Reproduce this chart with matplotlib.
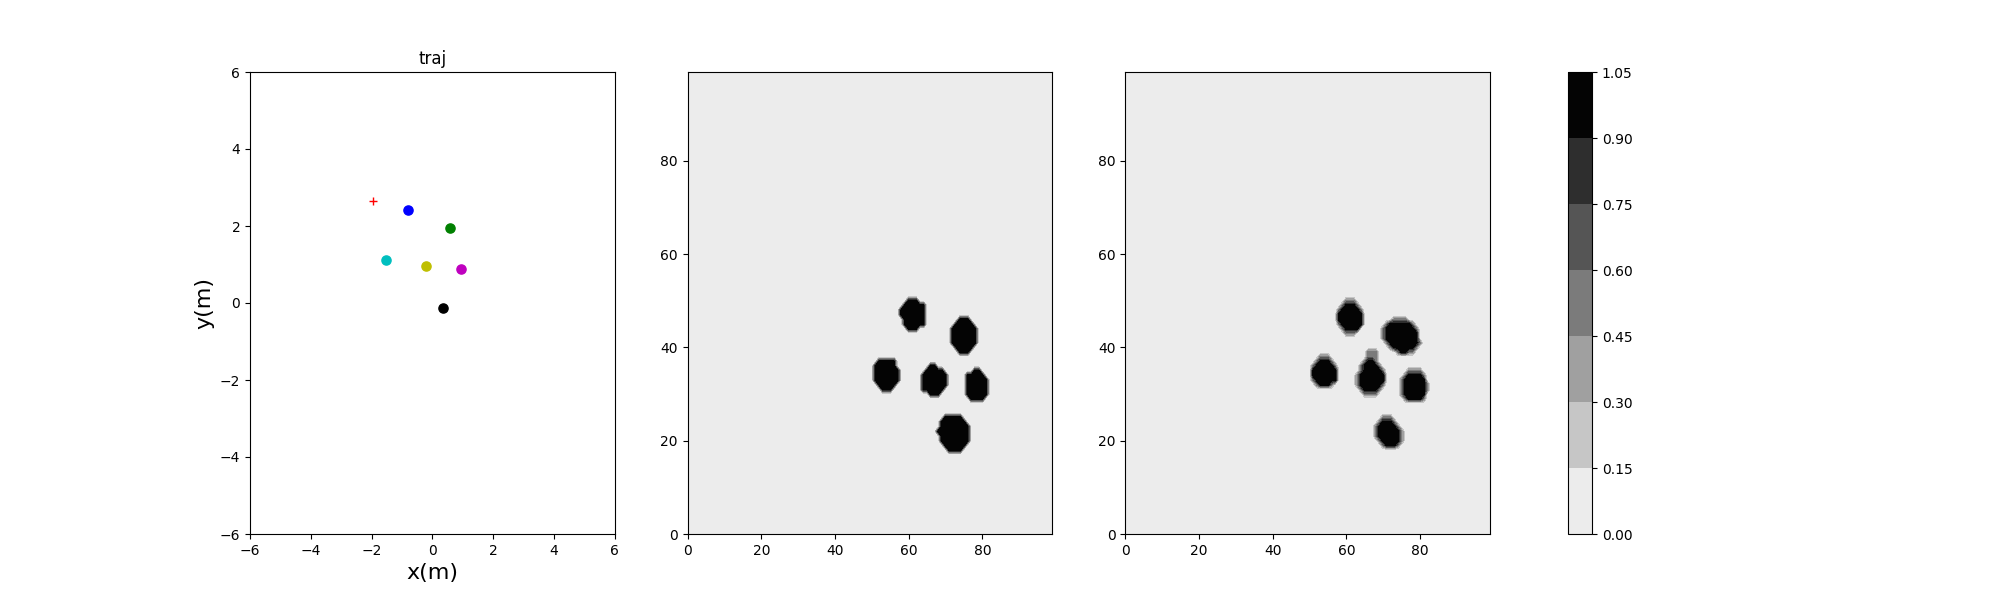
import numpy as np
import matplotlib
matplotlib.use("Agg")
import matplotlib.pyplot as plt

# trajectory panel
point_x = [-0.79, 0.58, -1.52, -0.2, 0.95, 0.36]
point_y = [2.41, 1.94, 1.11, 0.95, 0.875, -0.14]
point_colors = ['b', 'g', 'c', 'y', 'm', 'k']
target_x = [-1.96]
target_y = [2.64]

# colour levels
levels = [0.0, 0.15, 0.30, 0.45, 0.60, 0.75, 0.90, 1.05]
level_colors = ['#ececec', '#c6c6c6', '#a0a0a0', '#7b7b7b', '#555555', '#2e2e2e', '#040404']

# occupied cells, as (row, first column, last column)
left_full = [
    (50, 60, 62), (49, 59, 64), (48, 58, 64), (47, 58, 64), (46, 59, 64), (45, 59, 64), (44, 60, 62),
    (37, 52, 56), (36, 51, 56), (35, 51, 57), (34, 51, 57), (33, 51, 57), (32, 52, 56), (31, 53, 55),
    (36, 66, 67), (35, 65, 69), (34, 64, 70), (33, 64, 70), (32, 64, 70), (31, 64, 69), (30, 66, 68),
    (35, 78, 79), (34, 76, 80), (33, 76, 81), (32, 76, 81), (31, 76, 81), (30, 76, 81), (29, 77, 80),
    (46, 74, 76), (45, 73, 77), (44, 72, 78), (43, 72, 78), (42, 72, 78), (41, 72, 78), (40, 73, 77), (39, 74, 76),
    (25, 70, 74), (24, 69, 75), (23, 69, 76), (22, 68, 76), (21, 69, 76), (20, 69, 76), (19, 70, 75), (18, 71, 74),
]

right_rim = [
    (46, 73, 76), (45, 71, 78), (44, 70, 79), (43, 70, 79), (42, 70, 79), (41, 71, 80), (40, 72, 79), (39, 74, 78),
    (37, 65, 68), (36, 64, 69), (35, 64, 70), (34, 63, 70), (33, 63, 70), (32, 63, 70), (31, 64, 69), (30, 65, 68),
    (35, 77, 80), (34, 76, 81), (33, 75, 81), (32, 75, 82), (31, 75, 82), (30, 75, 81), (29, 76, 81),
    (25, 70, 72), (24, 69, 73), (23, 68, 74), (22, 68, 75), (21, 68, 75), (20, 69, 75), (19, 70, 74),
    (50, 60, 62), (49, 59, 63), (48, 58, 64), (47, 58, 64), (46, 58, 64), (45, 58, 64), (44, 59, 63), (43, 60, 62),
    (38, 53, 55), (37, 52, 56), (36, 51, 57), (35, 51, 57), (34, 51, 57), (33, 51, 57), (32, 52, 56),
]
right_faint = [(39, 66, 68), (38, 66, 68)]
right_full = [
    (45, 72, 77), (44, 71, 78), (43, 71, 79), (42, 71, 79), (41, 72, 79), (40, 73, 78), (39, 75, 76),
    (37, 66, 67), (36, 65, 68), (35, 65, 69), (34, 64, 70), (33, 64, 70), (32, 64, 69), (31, 65, 68),
    (34, 77, 80), (33, 76, 81), (32, 76, 81), (31, 76, 81), (30, 76, 81), (29, 77, 80),
    (24, 70, 72), (23, 69, 73), (22, 69, 74), (21, 69, 74), (20, 70, 74), (19, 71, 73),
    (49, 60, 62), (48, 59, 63), (47, 58, 64), (46, 58, 64), (45, 59, 64), (44, 60, 63),
    (37, 53, 55), (36, 52, 56), (35, 51, 57), (34, 51, 57), (33, 52, 57), (32, 53, 55),
]

rim_value = 0.5
faint_value = 0.55
full_value = 1.0
grid_size = 100


def paint(field, spans, value):
    for row, first, last in spans:
        field[row, first:last + 1] = value


left_field = np.zeros((grid_size, grid_size))
paint(left_field, left_full, full_value)

right_field = np.zeros((grid_size, grid_size))
paint(right_field, right_rim, rim_value)
paint(right_field, right_faint, faint_value)
paint(right_field, right_full, full_value)

cells = np.arange(grid_size)

fig, axes = plt.subplots(1, 3, figsize=(20, 6), dpi=100)
fig.subplots_adjust(left=0.125, right=0.745, bottom=0.11, top=0.88, wspace=0.2)

ax = axes[0]
for x, y, c in zip(point_x, point_y, point_colors):
    ax.plot([x], [y], c + 'o', markersize=6.6)
ax.plot(target_x, target_y, 'r+', markersize=6.3)
ax.set_xlim(-6, 6)
ax.set_ylim(-6, 6)
ax.set_title('traj')
ax.set_xlabel('x(m)', fontsize=16)
ax.set_ylabel('y(m)', fontsize=16)

for ax, field in zip(axes[1:], [left_field, right_field]):
    filled = ax.contourf(cells, cells, field, levels=levels, colors=level_colors)
    ax.set_xticks([0, 20, 40, 60, 80])
    ax.set_yticks([0, 20, 40, 60, 80])

cax = fig.add_axes([0.784, 0.11, 0.012, 0.77])
fig.colorbar(filled, cax=cax)

fig.savefig('out.png', dpi=100)
